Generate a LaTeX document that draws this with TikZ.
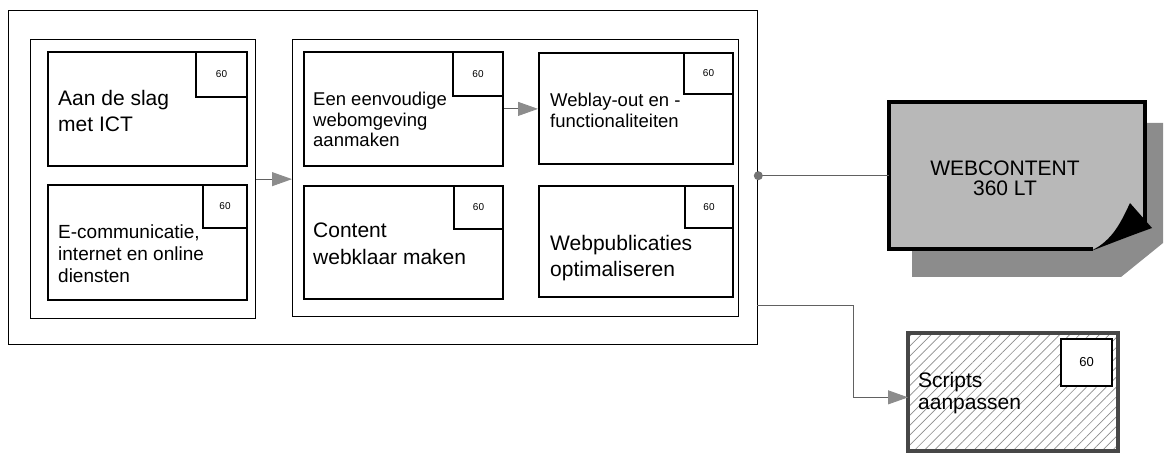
\documentclass[tikz,border=0pt]{standalone}
\usepackage{fontspec}
\setmainfont{Liberation Sans}
\usetikzlibrary{arrows.meta,patterns.meta}
\newcommand{\fs}[2]{\fontsize{#1}{#2}\selectfont}
\begin{document}
\begin{tikzpicture}[x=1pt,y=-1pt,
  box/.style={draw, line width=1.8pt, anchor=north west, inner sep=0pt},
  grp/.style={draw, line width=1.3pt, anchor=north west, inner sep=0pt},
  num/.style={draw, line width=1.6pt, anchor=north east, inner sep=0pt, fill=white, font=\fs{10}{12}},
  txt/.style={anchor=base west, inner sep=0pt, align=left},
  conn/.style={draw=black!62, line width=0.9pt},
  arr/.style={conn, -{Triangle[length=20pt,width=14pt,color=black!45,fill=black!45]}},
]
\useasboundingbox (0,0) rectangle (1164,454);

% outer frame and groups
\node[grp, minimum width=749pt, minimum height=334pt] (outer) at (8,10) {};
\node[grp, minimum width=225pt, minimum height=279pt] (lgrp) at (30,39) {};
\node[grp, minimum width=446pt, minimum height=277pt] (rgrp) at (292,39) {};

% module boxes (text anchors are at the baseline of the last line)
\node[box, minimum width=199pt, minimum height=114pt] (b1) at (47,51) {};
\node[num, minimum width=51pt, minimum height=45pt] (n1) at (b1.north east) {60};
\node[txt, font=\fs{21}{26}] (t1) at (58,132) {Aan de slag\\met ICT};

\node[box, minimum width=199pt, minimum height=115pt] (b2) at (47,184) {};
\node[num, minimum width=44pt, minimum height=43pt] (n2) at (b2.north east) {60};
\node[txt, font=\fs{19}{22}] (t2) at (58,283) {E-communicatie,\\internet en online\\diensten};

\node[box, minimum width=199pt, minimum height=114pt] (b3) at (303,51) {};
\node[num, minimum width=50pt, minimum height=44pt] (n3) at (b3.north east) {60};
\node[txt, font=\fs{18.5}{20.5}] (t3) at (313,147) {Een eenvoudige\\webomgeving\\aanmaken};

\node[box, minimum width=199pt, minimum height=113pt] (b4) at (303,185) {};
\node[num, minimum width=49pt, minimum height=43pt] (n4) at (b4.north east) {60};
\node[txt, font=\fs{21}{26.5}] (t4) at (313,264.5) {Content\\webklaar maken};

\node[box, minimum width=194pt, minimum height=111pt] (b5) at (538,52) {};
\node[num, minimum width=49pt, minimum height=41pt] (n5) at (b5.north east) {60};
\node[txt, font=\fs{18.5}{20.7}] (t5) at (550,127.7) {Weblay-out en -\\functionaliteiten};

\node[box, minimum width=194pt, minimum height=111pt] (b6) at (538,185) {};
\node[num, minimum width=48pt, minimum height=42pt] (n6) at (b6.north east) {60};
\node[txt, font=\fs{21}{26.5}] (t6) at (550,276.5) {Webpublicaties\\optimaliseren};

% WEBCONTENT sheet
\fill[black!45] (912,123) -- (1163,123) -- (1163,243) -- (1121,277) -- (912,277) -- cycle;
\node[anchor=north west, inner sep=0pt, minimum width=256pt, minimum height=147pt] (wc) at (889,102) {};
\fill[black!28] (889,102) -- (1145,102) -- (1145,226) -- (1093,249) -- (889,249) -- cycle;
\draw[line width=4pt, line join=miter] (1093,249) -- (889,249) -- (889,102) -- (1145,102) -- (1145,226);
\fill[black] (1091,251) .. controls (1113,240) and (1121,222) .. (1130,203) -- (1152,228) .. controls (1130,236) .. (1091,251) -- cycle;
\node[align=center, anchor=base, inner sep=0pt, font=\fs{21}{20}] (wct) at (1005,196) {WEBCONTENT\\360 LT};

% Scripts box
\node[anchor=north west, inner sep=0pt, minimum width=210pt, minimum height=118pt,
  draw=black!72, line width=4pt,
  pattern={Lines[angle=45, distance=7pt, line width=0.7pt]}, pattern color=black!45] (sc) at (908,333) {};
\node[draw, line width=2pt, anchor=north east, inner sep=0pt, fill=white,
  minimum width=51pt, minimum height=47pt, font=\fs{13}{15}] (n7) at (1113,338) {60};
\node[txt, font=\fs{21}{22}] (t7) at (918,409) {Scripts\\aanpassen};

% connectors
\draw[arr] (lgrp.east) -- (lgrp.east -| rgrp.west);
\draw[arr] (b3.east) -- (b3.east -| b5.west);
\draw[conn] (outer.east |- wc.west) -- (wc.west);
\fill[black!55] (outer.east |- wc.west) circle (4.5);
\coordinate (s0) at (757,305);
\coordinate (bend) at (853,305);
\draw[arr] (s0) -- (bend) |- ([yshift=-5pt]sc.west);
\end{tikzpicture}
\end{document}
